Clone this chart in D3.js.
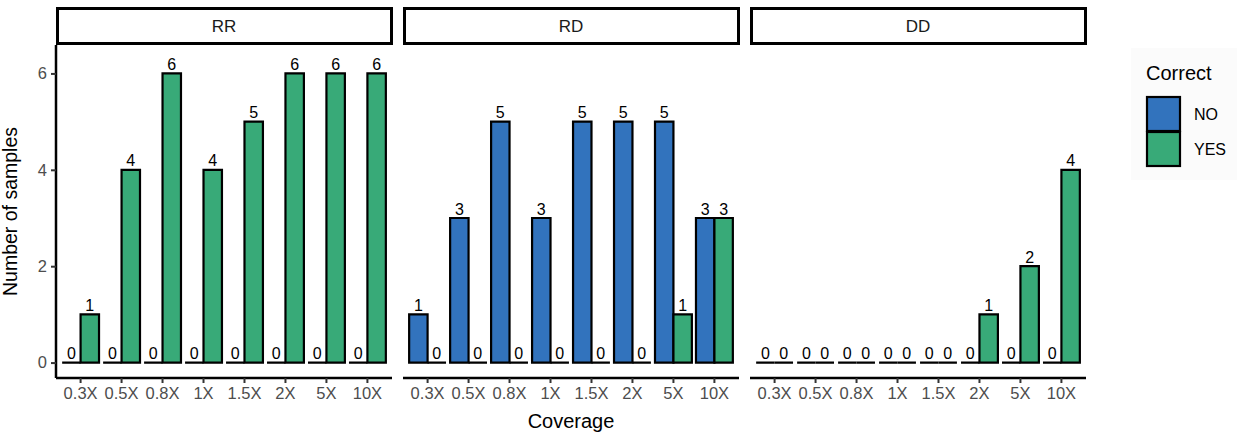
<!DOCTYPE html>
<html>
<head>
<meta charset="utf-8">
<script src="https://cdn.jsdelivr.net/npm/d3@7"></script>
<style>
  body { margin: 0; background: #fff; }
  text { font-family: "Liberation Sans", Arial, Helvetica, sans-serif; }
</style>
</head>
<body>
<script>
// data
const coverage = ["0.3X", "0.5X", "0.8X", "1X", "1.5X", "2X", "5X", "10X"];
const groups = ["RR", "RD", "DD"];
const correct = ["NO", "YES"];
const rrNo  = [0, 0, 0, 0, 0, 0, 0, 0];
const rrYes = [1, 4, 6, 4, 5, 6, 6, 6];
const rdNo  = [1, 3, 5, 3, 5, 5, 5, 3];
const rdYes = [0, 0, 0, 0, 0, 0, 1, 3];
const ddNo  = [0, 0, 0, 0, 0, 0, 0, 0];
const ddYes = [0, 0, 0, 0, 0, 1, 2, 4];
const yTicks = [0, 2, 4, 6];

const seriesByGroup = {RR: [rrNo, rrYes], RD: [rdNo, rdYes], DD: [ddNo, ddYes]};
const colours = {NO: "#3273bd", YES: "#38aa78"};

const width = 1237, height = 438;
const panelTop = 45, panelBottom = 378;
const panelX = [56, 403, 750], panelW = 336;

const svg = d3.select("body").append("svg")
    .attr("width", width)
    .attr("height", height);

const y = d3.scaleLinear().domain([-0.32, 6.59]).range([panelBottom, panelTop]);

groups.forEach((grp, gi) => {
  const x0 = panelX[gi];
  const g = svg.append("g").attr("transform", `translate(${x0},0)`);

  const x = d3.scaleBand()
      .domain(coverage)
      .range([0, panelW])
      .paddingInner(0)
      .paddingOuter(0.1);
  const xs = d3.scaleBand()
      .domain(correct)
      .range([x.bandwidth() * 0.05, x.bandwidth() * 0.95]);

  // strip
  g.append("rect")
      .attr("x", 1.5).attr("y", 8.5)
      .attr("width", panelW - 2).attr("height", 35)
      .attr("fill", "#fff").attr("stroke", "#000").attr("stroke-width", 3);
  g.append("text")
      .attr("x", panelW / 2).attr("y", 26)
      .attr("dy", "0.35em")
      .attr("text-anchor", "middle")
      .attr("fill", "#1a1a1a")
      .style("font-size", "17px")
      .text(grp);

  const rows = [];
  coverage.forEach((c, i) => {
    correct.forEach((k, j) => rows.push({cov: c, key: k, value: seriesByGroup[grp][j][i]}));
  });

  // bars as paths so zero-height bars still show their outline
  g.append("g").selectAll("path")
    .data(rows)
    .join("path")
      .attr("d", d => {
        const bx = x(d.cov) + xs(d.key), bw = xs.bandwidth();
        return `M${bx},${y(0)}V${y(d.value)}H${bx + bw}V${y(0)}Z`;
      })
      .attr("fill", d => colours[d.key])
      .attr("stroke", "#000")
      .attr("stroke-width", 2.2)
      .attr("stroke-linejoin", "miter");

  g.append("g").selectAll("text")
    .data(rows)
    .join("text")
      .attr("x", d => x(d.cov) + xs(d.key) + xs.bandwidth() / 2)
      .attr("y", d => y(d.value) - 3.5)
      .attr("text-anchor", "middle")
      .attr("fill", "#000")
      .style("font-size", "16px")
      .text(d => d.value);

  // x axis
  const xa = g.append("g")
      .attr("transform", `translate(0,${panelBottom})`)
      .call(d3.axisBottom(x).tickSize(5).tickPadding(4));
  xa.select(".domain").attr("stroke", "#000").attr("stroke-width", 2.5)
      .attr("d", `M0,0H${panelW}`);
  xa.selectAll(".tick line").attr("stroke", "#333").attr("stroke-width", 2);
  xa.selectAll(".tick text").attr("fill", "#4d4d4d")
      .style("font-size", "16.5px").style("font-family", "Liberation Sans, Arial, sans-serif");

  // y axis
  const ya = g.append("g")
      .call(d3.axisLeft(y).tickValues(yTicks).tickFormat(d3.format("d")).tickSize(5).tickPadding(4));
  ya.select(".domain").attr("stroke", "#000").attr("stroke-width", 2.5)
      .attr("d", `M0,${panelTop}V${panelBottom}`);
  ya.selectAll(".tick line").attr("stroke", "#333").attr("stroke-width", 2);
  ya.selectAll(".tick text").attr("fill", "#4d4d4d")
      .style("font-size", "16.5px").style("font-family", "Liberation Sans, Arial, sans-serif");
  if (gi > 0) ya.selectAll(".tick").remove();
  if (gi > 0) ya.select(".domain").remove();
});

// axis titles
svg.append("text")
    .attr("x", (panelX[0] + panelX[2] + panelW) / 2)
    .attr("y", 428)
    .attr("text-anchor", "middle")
    .style("font-size", "20px")
    .text("Coverage");

svg.append("text")
    .attr("transform", `translate(17,${(panelTop + panelBottom) / 2}) rotate(-90)`)
    .attr("text-anchor", "middle")
    .style("font-size", "19.5px")
    .text("Number of samples");

// legend
const legend = svg.append("g");
legend.append("rect")
    .attr("x", 1131).attr("y", 48).attr("width", 106).attr("height", 132)
    .attr("fill", "#fbfbfb");
legend.append("text")
    .attr("x", 1146).attr("y", 80)
    .style("font-size", "20px")
    .text("Correct");
legend.selectAll(".key")
  .data(correct)
  .join("rect")
    .attr("x", 1147)
    .attr("y", (d, i) => 97 + i * 35)
    .attr("width", 33).attr("height", 34)
    .attr("fill", d => colours[d])
    .attr("stroke", "#000").attr("stroke-width", 2.2);
legend.selectAll(".lab")
  .data(correct)
  .join("text")
    .attr("x", 1194)
    .attr("y", (d, i) => 114 + i * 35)
    .attr("dy", "0.35em")
    .style("font-size", "16px")
    .text(d => d);
</script>
</body>
</html>
